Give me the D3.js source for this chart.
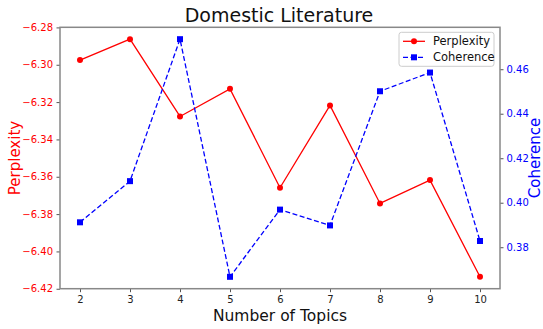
<!DOCTYPE html>
<html>
<head>
<meta charset="UTF-8">
<title>Domestic Literature</title>
<script src="https://d3js.org/d3.v7.min.js"></script>
<style>
  body { margin: 0; background: #fff; font-family: "DejaVu Sans", sans-serif; }
  svg text { font-family: "DejaVu Sans", sans-serif; }
</style>
</head>
<body>
<svg id="chart"></svg>
<script>
const width = 543, height = 329;

// data
const topics = [2, 3, 4, 5, 6, 7, 8, 9, 10];
const perplexity = [-6.2975, -6.2863, -6.3277, -6.3129, -6.3659, -6.3218, -6.3743, -6.3618, -6.4136];
const coherence = [0.3912, 0.4097, 0.4735, 0.3667, 0.3969, 0.3898, 0.4501, 0.4585, 0.3828];
const leftTicks = [-6.42, -6.40, -6.38, -6.36, -6.34, -6.32, -6.30, -6.28];
const rightTicks = [0.38, 0.40, 0.42, 0.44, 0.46];

const margin = {top: 27.3, right: 43, bottom: 40.3, left: 60};
const pw = width - margin.left - margin.right;
const ph = height - margin.top - margin.bottom;

// matplotlib-like 5% autoscale margins
function padded(vals) {
  const [a, b] = d3.extent(vals);
  const m = (b - a) * 0.05;
  return [a - m, b + m];
}

const x = d3.scaleLinear().domain(padded(topics)).range([0, pw]);
const yL = d3.scaleLinear().domain(padded(perplexity)).range([ph, 0]);
const yR = d3.scaleLinear().domain(padded(coherence)).range([ph, 0]);

const svg = d3.select("#chart").attr("width", width).attr("height", height);
const g = svg.append("g").attr("transform", `translate(${margin.left},${margin.top})`);

const minus = d => d3.format(".2f")(d).replace("-", "\u2212");

// axes
const xAxis = g.append("g").attr("transform", `translate(0,${ph})`)
  .call(d3.axisBottom(x).tickValues(topics).tickFormat(d3.format("d")).tickSize(3.5).tickPadding(3.5));
const lAxis = g.append("g")
  .call(d3.axisLeft(yL).tickValues(leftTicks).tickFormat(minus).tickSize(3.5).tickPadding(3.5));
const rAxis = g.append("g").attr("transform", `translate(${pw},0)`)
  .call(d3.axisRight(yR).tickValues(rightTicks).tickFormat(d3.format(".2f")).tickSize(3.5).tickPadding(3));

[xAxis, lAxis, rAxis].forEach(a => {
  a.select(".domain").remove();
  a.selectAll(".tick line").attr("stroke", "#555");
  a.selectAll(".tick text").attr("font-size", 10);
});
xAxis.selectAll(".tick text").attr("fill", "#222");
lAxis.selectAll(".tick text").attr("fill", "#ff0000");
rAxis.selectAll(".tick text").attr("fill", "#0000ff");

// frame
g.append("rect").attr("width", pw).attr("height", ph)
  .attr("fill", "none").attr("stroke", "#888").attr("stroke-width", 1.5);

// lines
const redLine = d3.line().x((d, i) => x(topics[i])).y(d => yL(d));
const blueLine = d3.line().x((d, i) => x(topics[i])).y(d => yR(d));

g.append("path").datum(perplexity).attr("d", redLine)
  .attr("fill", "none").attr("stroke", "#ff0000").attr("stroke-width", 1.3);
g.selectAll(".pt").data(perplexity).join("circle")
  .attr("cx", (d, i) => x(topics[i])).attr("cy", d => yL(d)).attr("r", 3).attr("fill", "#ff0000");

g.append("path").datum(coherence).attr("d", blueLine)
  .attr("fill", "none").attr("stroke", "#0000ff").attr("stroke-width", 1.3)
  .attr("stroke-dasharray", "5,2.5");
g.selectAll(".sq").data(coherence).join("rect")
  .attr("x", (d, i) => x(topics[i]) - 3).attr("y", d => yR(d) - 3)
  .attr("width", 6).attr("height", 6).attr("fill", "#0000ff");

// title and labels
svg.append("text").attr("x", margin.left + pw / 2 - 1).attr("y", 22)
  .attr("text-anchor", "middle").attr("font-size", 19).attr("fill", "#111")
  .text("Domestic Literature");
svg.append("text").attr("x", margin.left + pw / 2).attr("y", 321)
  .attr("text-anchor", "middle").attr("font-size", 15.5).attr("fill", "#111")
  .text("Number of Topics");
svg.append("text").attr("transform", `translate(20,${margin.top + ph / 2}) rotate(-90)`)
  .attr("text-anchor", "middle").attr("font-size", 15).attr("fill", "#ff0000")
  .text("Perplexity");
svg.append("text").attr("transform", `translate(539.5,${margin.top + ph / 2}) rotate(-90)`)
  .attr("text-anchor", "middle").attr("font-size", 15).attr("fill", "#0000ff")
  .text("Coherence");

// legend
const leg = g.append("g").attr("transform", `translate(${pw - 101},5)`);
leg.append("rect").attr("width", 95).attr("height", 34).attr("rx", 2.5)
  .attr("fill", "#fff").attr("fill-opacity", 0.8).attr("stroke", "#ccc");
const items = [
  {name: "Perplexity", color: "#ff0000", dash: null, marker: "circle"},
  {name: "Coherence", color: "#0000ff", dash: "5,2.5", marker: "square"}
];
items.forEach((it, i) => {
  const y0 = 9 + i * 16;
  leg.append("line").attr("x1", 4).attr("x2", 26).attr("y1", y0).attr("y2", y0)
    .attr("stroke", it.color).attr("stroke-width", 1.3).attr("stroke-dasharray", it.dash);
  if (it.marker === "circle") {
    leg.append("circle").attr("cx", 15).attr("cy", y0).attr("r", 3).attr("fill", it.color);
  } else {
    leg.append("rect").attr("x", 12).attr("y", y0 - 3).attr("width", 6).attr("height", 6).attr("fill", it.color);
  }
  leg.append("text").attr("x", 34).attr("y", y0 + 4).attr("font-size", 11.5).attr("fill", "#111").text(it.name);
});
</script>
</body>
</html>
